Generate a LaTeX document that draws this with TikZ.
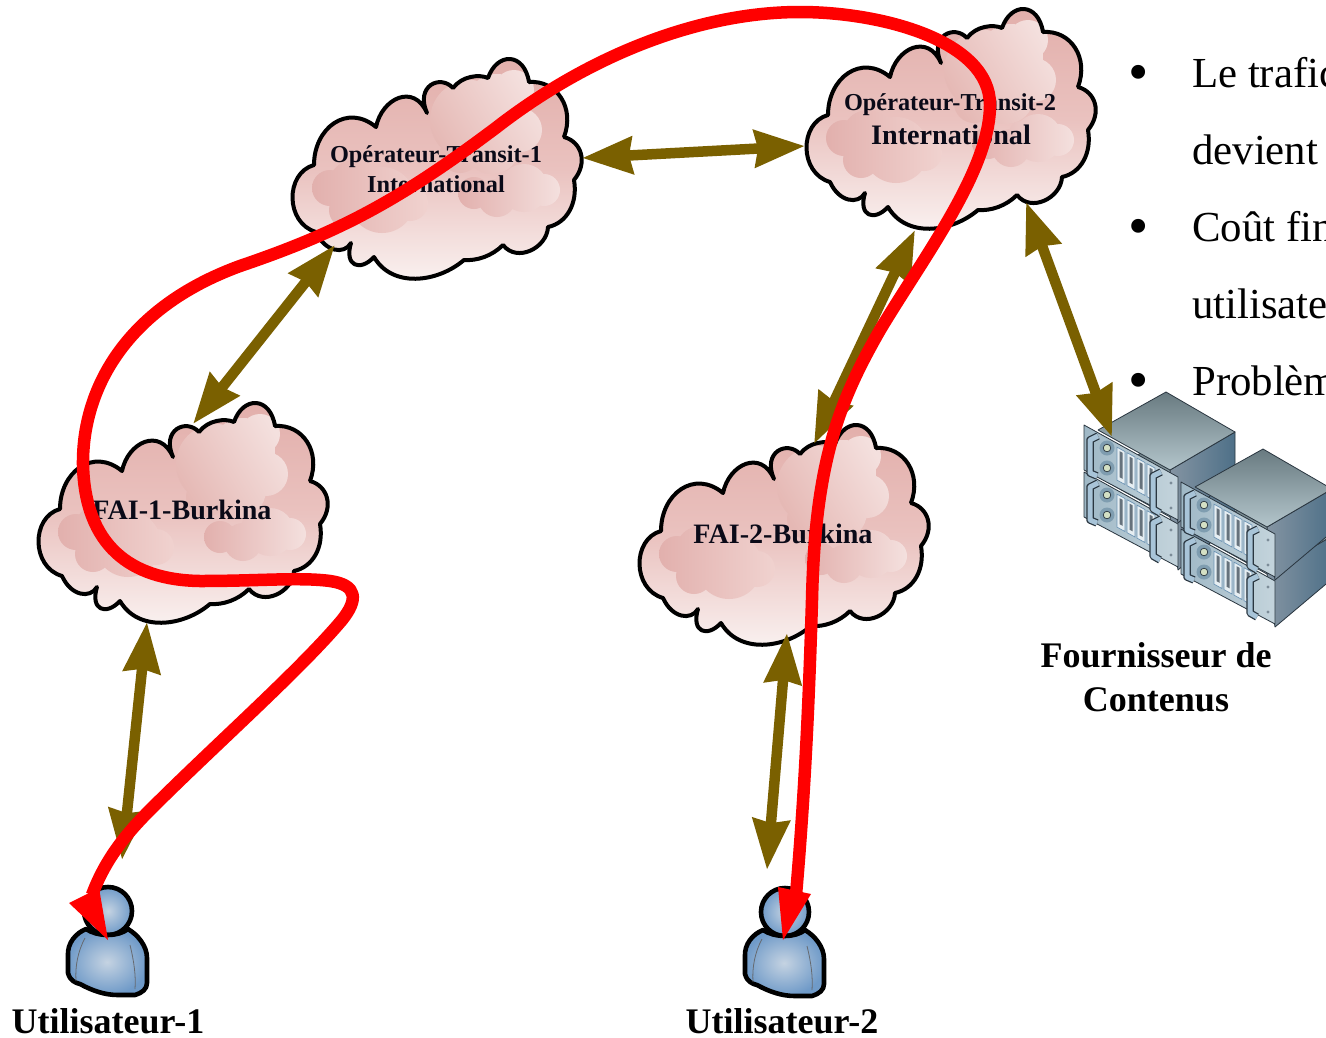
\documentclass[tikz,border=0pt]{standalone}
\usepackage{fontspec}
\setmainfont{Liberation Serif}
\usetikzlibrary{arrows.meta}
\definecolor{brownarrow}{HTML}{7A6000}
\definecolor{inkdark}{HTML}{0A0A18}
\newcommand{\cloudoutline}{
  (135,55) .. controls (123,28) and (148,16) .. (161,30)
  .. controls (170,18) and (187,16) .. (196,20)
  .. controls (205,-6) and (232,-6) .. (237,24)
  .. controls (265,22) and (283,50) .. (272,79)
  .. controls (290,84) and (296,105) .. (282,122)
  .. controls (286,145) and (275,165) .. (256,169)
  .. controls (255,190) and (225,205) .. (211,187)
  .. controls (200,198) and (185,203) .. (172,202)
  .. controls (145,225) and (100,230) .. (82,199)
  .. controls (68,214) and (52,208) .. (59,185)
  .. controls (52,197) and (33,194) .. (24,174)
  .. controls (-7,165) and (-7,115) .. (22,107)
  .. controls (22,70) and (55,45) .. (84,69)
  .. controls (90,40) and (122,25) .. (135,55) -- cycle}
\newcommand{\cloudat}[2]{%
  \begin{scope}[shift={(#1,#2)}]
    \begin{scope}
      \clip \cloudoutline;
      \path[top color=cloudtop,bottom color=cloudlow,middle color=cloudmid] (-5,-5) rectangle (295,228);
      \path[left color=blobpale,right color=blobdark,shading angle=-60]
        (178,62) circle (40) (205,48) circle (32) (222,32) circle (20) (228,72) circle (22) (200,88) circle (28) (168,95) circle (20);
      \path[left color=blobdeep,right color=blobmid]
        (38,130) circle (18) (62,128) circle (26) (90,142) circle (33) (118,145) circle (18) (55,152) circle (18);
      \path[left color=blobdeep,right color=blobpale]
        (182,135) circle (16) (205,140) circle (19) (232,130) circle (24) (252,132) circle (16) (215,125) circle (12);
    \end{scope}
    \draw[line width=4pt,line join=round,black] \cloudoutline;
  \end{scope}}
\newcommand{\personat}[2]{%
  \begin{scope}[shift={(#1,#2)}]
    \path[draw=black,line width=4.6pt,inner color=personlight,outer color=persondark] (0,0) circle (24);
    \path[draw=black,line width=4.6pt,line join=round,inner color=personlight,outer color=persondark]
      (-22,18) .. controls (-32,22) and (-41,32) .. (-40,45)
      -- (-40,62) .. controls (-38,70) and (-32,72) .. (-28,73)
      .. controls (-15,80) and (-3,84) .. (10,84)
      -- (27,84) .. controls (34,82) and (39,78) .. (39,72)
      -- (39,47) .. controls (39,35) and (30,24) .. (20,18)
      .. controls (10,26) and (-10,26) .. (-22,18) -- cycle;
    \draw[personline,line width=.8pt] (-23,27) .. controls (-30,40) and (-33,55) .. (-32,70);
    \draw[personline,line width=.8pt] (22,34) .. controls (26,50) and (28,65) .. (27,78);
  \end{scope}}
\newcommand{\serverat}[2]{%
  \begin{scope}[shift={(#1,#2)}]
    \path[srvedge,left color=srvsidea,right color=srvsideb] (86,45) -- (151,7) -- (151,50) -- (94,98) -- cycle;
    \path[srvedge,top color=srvtopa,bottom color=srvtopb] (14,5) -- (82,-33) -- (151,7) -- (86,45) -- cycle;
    \path[srvedge,left color=srvpanela,right color=srvpanelb] (0,0) -- (94,52) -- (94,95) -- (0,45) -- cycle;
    \fill[srvhalo] (23,23) circle (7.5) (23,43) circle (7.5);
    \path[draw=srvdark,line width=.7pt,fill=srvled] (23,23) circle (3.8) (23,43) circle (3.8);
    \foreach \i in {0,1,2,3}{
      \pgfmathsetmacro{\bx}{33+10*\i}
      \pgfmathsetmacro{\by}{4+0.55*\bx}
      \path[draw=srvbay,line width=.7pt,fill=srvwhite] (\bx,\by) -- ++(8,4.4) -- ++(0,33) -- ++(-8,-4.4) -- cycle;
      \fill[srvslot] (\bx+2.5,\by+4) -- ++(3,1.6) -- ++(0,26) -- ++(-3,-1.6) -- cycle;
    }
    \draw[srvdark,line width=7.5pt,line join=round] (14,11) -- (6,15) -- (6,48) -- (13,51);
    \draw[srvhandle,line width=5pt,line join=round] (14,11) -- (6,15) -- (6,48) -- (13,51);
    \draw[srvdark,line width=7.5pt,line join=round] (77,47) -- (69,51) -- (69,84) -- (76,88);
    \draw[srvhandle,line width=5pt,line join=round] (77,47) -- (69,51) -- (69,84) -- (76,88);
    \fill[srvbolt] (87,58) circle (1.6) (87,83) circle (1.6);
  \end{scope}}
\definecolor{cloudtop}{HTML}{E2AEAA}
\definecolor{cloudmid}{HTML}{EAC2BF}
\definecolor{cloudlow}{HTML}{FAF3F2}
\definecolor{blobdark}{HTML}{E5B8B4}
\definecolor{blobpale}{HTML}{F4E0DE}
\definecolor{blobdeep}{HTML}{E2B0AD}
\definecolor{blobmid}{HTML}{F0D2CF}
\definecolor{personlight}{HTML}{C5D3E2}
\definecolor{persondark}{HTML}{6F9AC8}
\definecolor{personline}{HTML}{666A70}
\definecolor{srvsidea}{HTML}{8494A2}
\definecolor{srvsideb}{HTML}{4E7088}
\definecolor{srvtopa}{HTML}{687A80}
\definecolor{srvtopb}{HTML}{B4C6CC}
\definecolor{srvpanela}{HTML}{9FB8C6}
\definecolor{srvpanelb}{HTML}{C4D4DC}
\definecolor{srvhalo}{HTML}{7F9DB0}
\definecolor{srvdark}{HTML}{2A3640}
\definecolor{srvled}{HTML}{D4E0C4}
\definecolor{srvbay}{HTML}{6D94B4}
\definecolor{srvwhite}{HTML}{E6EEF2}
\definecolor{srvslot}{HTML}{66727C}
\definecolor{srvhandle}{HTML}{A8C4D8}
\definecolor{srvbolt}{HTML}{7C8C98}
\tikzset{
  srvedge/.style={draw=srvdark,line width=.8pt,line join=round},
  biarrow/.style={draw=brownarrow,line width=10.5pt,
    {Stealth[length=50pt,width=36pt,inset=3pt]}-{Stealth[length=50pt,width=36pt,inset=3pt]}},
  redroute/.style={draw=red,line width=12.5pt,line cap=butt,line join=round},
  redhead/.style={fill=red},
  tagbig/.style={font=\bfseries\fontsize{36}{40}\selectfont,text=black,anchor=base,inner sep=0pt},
  tagfai/.style={font=\bfseries\fontsize{28.1}{30}\selectfont,text=inkdark,anchor=base,inner sep=0pt},
  tagtransit/.style={font=\bfseries\fontsize{24.3}{26}\selectfont,text=inkdark,anchor=base,inner sep=0pt},
  taginter/.style={font=\bfseries\fontsize{28.2}{30}\selectfont,text=inkdark,anchor=base,inner sep=0pt},
  bodyline/.style={font=\fontsize{42.8}{46}\selectfont,text=black,anchor=base west,inner sep=0pt},
  bulletmark/.style={font=\fontsize{58}{58}\selectfont,text=black,anchor=base,inner sep=0pt},
}
\begin{document}
\begin{tikzpicture}[x=1pt,y=-1pt]
\useasboundingbox (0,0) rectangle (1326,1037);
\clip (0,0) rectangle (1326,1037);
\fill[white] (0,0) rectangle (1326,1037);
% bullets
\node[bulletmark] (b1) at (1139,91) {•};
\node[bulletmark] (b2) at (1139,245) {•};
\node[bulletmark] (b3) at (1139,399) {•};
\node[bodyline] (t1) at (1192,87) {Le trafic};
\node[bodyline] (t2) at (1192,164) {devient};
\node[bodyline] (t3) at (1192,241) {Coût fin};
\node[bodyline] (t4) at (1192,318) {utilisate};
\node[bodyline] (t5) at (1192,395) {Problèm};
% clouds
\cloudat{292}{58}
\cloudat{806}{8}
\cloudat{38}{402}
\cloudat{639}{424}
\node[tagtransit] (c1a) at (436,162) {Opérateur-Transit-1};
\node[tagtransit] (c1b) at (436,192) {International};
\node[tagtransit] (c2a) at (950,110) {Opérateur-Transit-2};
\node[taginter] (c2b) at (951,144) {International};
\node[tagfai] (f1) at (182,519) {FAI-1-Burkina};
\node[tagfai] (f2) at (783,543) {FAI-2-Burkina};
% servers
\serverat{1084}{472}
\serverat{1084}{425}
\serverat{1181}{529}
\serverat{1181}{482}
\node[tagbig] (s1) at (1156,667) {Fournisseur de};
\node[tagbig] (s2) at (1156,711) {Contenus};
% people
\personat{108}{911}
\personat{785}{912}
\node[tagbig] (u1) at (108,1033) {Utilisateur-1};
\node[tagbig] (u2) at (782,1033) {Utilisateur-2};
% connector ends
\coordinate (t1e) at (582,158);
\coordinate (t2w) at (805,146);
\coordinate (t1s) at (335,245);
\coordinate (f1n) at (193,424);
\coordinate (f1s) at (147,622);
\coordinate (u1n) at (122,860);
\coordinate (t2s) at (915,230);
\coordinate (f2n) at (814,444);
\coordinate (t2e) at (1026,202);
\coordinate (srv) at (1112,437);
\coordinate (f2s) at (787,633);
\coordinate (u2n) at (767,870);
\draw[biarrow] (t1e) -- (t2w);
\draw[biarrow] (t1s) -- (f1n);
\draw[biarrow] (f1s) -- (u1n);
\draw[biarrow] (t2s) -- (f2n);
\draw[biarrow] (t2e) -- (srv);
\draw[biarrow] (f2s) -- (u2n);
% red traffic route
\coordinate (ra) at (92,895);
\coordinate (rb) at (796,895);
\draw[redroute] (ra) .. controls (105,860) and (125,835) .. (150,810)
  .. controls (215,745) and (300,670) .. (342,620)
  .. controls (358,600) and (358,585) .. (330,581)
  .. controls (300,577) and (260,581) .. (200,581)
  .. controls (130,580) and (85,545) .. (83,465)
  .. controls (82,390) and (125,308) .. (240,266)
  .. controls (340,232) and (400,200) .. (497,127)
  .. controls (590,55) and (700,12) .. (800,12)
  .. controls (880,12) and (990,40) .. (990,105)
  .. controls (990,170) and (925,255) .. (880,330)
  .. controls (840,400) and (815,460) .. (812,600)
  .. controls (809,700) and (805,790) .. (rb);
\fill[redhead] (69,903) -- (99,888) -- (108,940) -- cycle;
\fill[redhead] (778,887) -- (811,894) -- (783,940) -- cycle;
\end{tikzpicture}
\end{document}
